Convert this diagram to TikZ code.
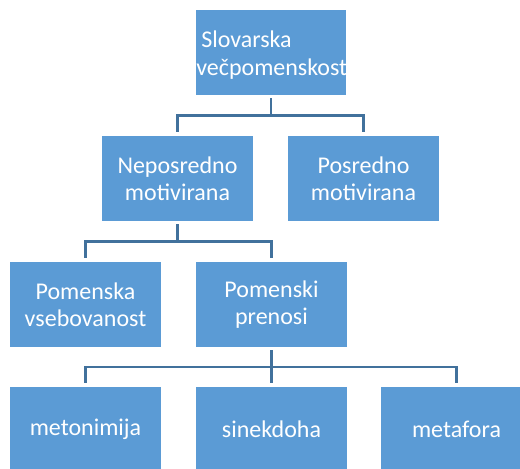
\documentclass[tikz,border=0pt]{standalone}
\usepackage{fontspec}
\setmainfont{Carlito}
\usetikzlibrary{calc}
\definecolor{boxfill}{HTML}{5B9BD5}
\definecolor{linecol}{HTML}{41719C}
\tikzset{
  box/.style={fill=boxfill, draw=none, minimum width=151*0.75pt, minimum height=85*0.75pt,
    inner sep=0pt, text=white, align=center,
    font=\fontsize{18pt}{20.5pt}\selectfont},
  conn/.style={draw=linecol, line width=2pt, shorten <=3*0.75pt, shorten >=4*0.75pt}
}
\begin{document}
\begin{tikzpicture}[x=0.75pt,y=-0.75pt]
\useasboundingbox (0,0) rectangle (520,468);
\clip (0,0) rectangle (520,468);
\fill[white] (0,0) rectangle (520,468);
\node[box, minimum width=150*0.75pt] (top) at (271,52.5) {};
\node[anchor=west, inner sep=0pt, text=white, align=left,
      font=\fontsize{18pt}{20.5pt}\selectfont] (toptext) at (196,55)
      {\hspace*{3.75pt}Slovarska\\večpomenskost};
\node[box] (nep) at (177.5,178.5) {Neposredno\\motivirana};
\node[box] (pos) at (363.5,178.5) {Posredno\\motivirana};
\node[box] (pv) at (85.5,304.5) {Pomenska\\vsebovanost};
\node[box] (pp) at (271.5,304.5) {Pomenski\\prenosi};
\node[box] (met) at (85.5,429.5) {metonimija};
\node[box] (sin) at (271.5,429.5) {sinekdoha};
\node[box] (meta) at (456.5,429.5) {metafora};
\coordinate (b1) at ($(top.south)!0.5!(top.south |- nep.north)$);
\coordinate (b2) at ($(nep.south)!0.5!(nep.south |- pv.north)$);
\coordinate (b3) at ($(pp.south)!0.5!(pp.south |- sin.north)$);
\draw[conn] (top.south) -- (b1) -| (nep.north);
\draw[conn] (top.south) -- (b1) -| (pos.north);
\draw[conn] (nep.south) -- (b2) -| (pv.north);
\draw[conn] (nep.south) -- (b2) -| (pp.north);
\draw[conn] (pp.south) -- (b3) -| (met.north);
\draw[conn] (pp.south) -- (sin.north);
\draw[conn] (pp.south) -- (b3) -| (meta.north);
\end{tikzpicture}
\end{document}
